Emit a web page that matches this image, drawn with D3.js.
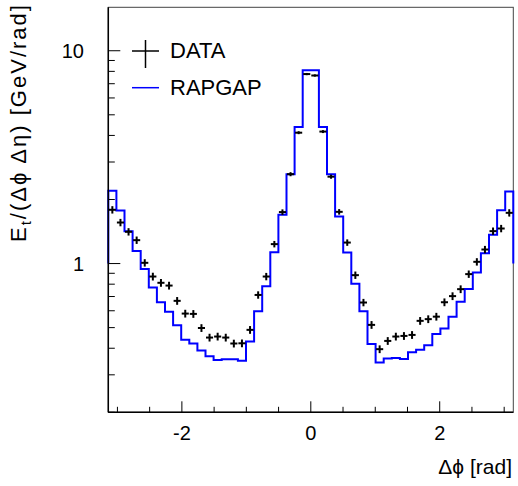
<!DOCTYPE html>
<html>
<head>
<meta charset="utf-8">
<script src="https://cdn.jsdelivr.net/npm/d3@7"></script>
<style>
  body { margin: 0; background: #fff; }
  text { font-family: "Liberation Sans", Arial, Helvetica, sans-serif; fill: #000; }
</style>
</head>
<body>
<div id="chart"></div>
<script>
// 50 bins over [-pi, pi]
var nBins = 50;
var xMin = -Math.PI, xMax = Math.PI;

// RAPGAP histogram, one value per bin
var rapgap = [2.20, 1.775, 1.42, 1.147, 0.944, 0.771, 0.658, 0.593, 0.513, 0.438,
              0.421, 0.39, 0.367, 0.352, 0.355, 0.355, 0.349, 0.43, 0.597, 0.783,
              1.131, 1.694, 2.63, 4.38, 8.1, 8.1, 4.38, 2.63, 1.663, 1.126,
              0.803, 0.597, 0.419, 0.343, 0.358, 0.36, 0.356, 0.383, 0.393, 0.413,
              0.467, 0.495, 0.563, 0.661, 0.76, 0.907, 1.119, 1.364, 1.782, 2.18];

// DATA points, one per bin
var dataVals = [1.789, 1.559, 1.41, 1.288, 1.008, 0.869, 0.812, 0.788, 0.668, 0.582,
                0.58, 0.498, 0.449, 0.454, 0.449, 0.421, 0.422, 0.488, 0.712, 0.869,
                1.234, 1.745, 2.63, 4.12, 7.77, 7.65, 4.17, 2.56, 1.75, 1.255,
                0.882, 0.656, 0.515, 0.396, 0.433, 0.454, 0.457, 0.462, 0.538, 0.548,
                0.563, 0.658, 0.703, 0.758, 0.892, 1.019, 1.164, 1.42, 1.461, 1.731];

// relative errors on DATA
var dataErr = [0.04, 0.04, 0.04, 0.04, 0.04, 0.042, 0.042, 0.042, 0.042, 0.042,
               0.042, 0.042, 0.042, 0.042, 0.042, 0.042, 0.042, 0.042, 0.04, 0.04,
               0.035, 0.03, 0.022, 0.016, 0.012, 0.012, 0.016, 0.022, 0.03, 0.035,
               0.04, 0.04, 0.042, 0.042, 0.042, 0.042, 0.042, 0.042, 0.042, 0.042,
               0.042, 0.042, 0.042, 0.042, 0.04, 0.04, 0.04, 0.04, 0.04, 0.04];

var xMajor = [-2, 0, 2];
var xMinor = [-3, -2.5, -1.5, -1, -0.5, 0.5, 1, 1.5, 2.5, 3];
var yMajor = [1, 10];
var yMinor = [0.2, 0.3, 0.4, 0.5, 0.6, 0.7, 0.8, 0.9, 2, 3, 4, 5, 6, 7, 8, 9];

var width = 518, height = 486;
var pL = 108.3, pR = 513.3, pT = 7.3, pB = 412.3;

var svg = d3.select("#chart").append("svg")
    .attr("width", width).attr("height", height);

var x = d3.scaleLinear().domain([xMin, xMax]).range([pL, pR]);
var y = d3.scaleLog().domain([0.2, 16]).range([pB, pT]);
var binW = (xMax - xMin) / nBins;

// frame
svg.append("rect")
    .attr("x", pL).attr("y", pT)
    .attr("width", pR - pL).attr("height", pB - pT)
    .attr("fill", "none").attr("stroke", "#444").attr("stroke-width", 1);

// histogram outline (starts and ends at y = 1 like the original)
var pts = [[x(xMin), y(1)]];
rapgap.forEach(function (v, i) {
  var x0 = x(xMin + i * binW), x1 = x(xMin + (i + 1) * binW);
  pts.push([x0, y(v)]);
  pts.push([x1, y(v)]);
});
pts.push([x(xMax), y(1)]);
svg.append("path")
    .attr("d", d3.line()(pts))
    .attr("fill", "none").attr("stroke", "#0000ff").attr("stroke-width", 2);

// data crosses
var g = svg.append("g").attr("stroke", "#000").attr("stroke-width", 2);
dataVals.forEach(function (v, i) {
  var xc = xMin + (i + 0.5) * binW;
  g.append("line")
      .attr("x1", x(xc - binW / 2) + 0.5).attr("x2", x(xc + binW / 2) - 0.5)
      .attr("y1", y(v)).attr("y2", y(v));
  g.append("line")
      .attr("x1", x(xc)).attr("x2", x(xc))
      .attr("y1", y(v * (1 + dataErr[i]))).attr("y2", y(v * (1 - dataErr[i])));
});

// axes lines
svg.append("line").attr("x1", pL).attr("x2", pR).attr("y1", pB).attr("y2", pB)
    .attr("stroke", "#000").attr("stroke-width", 1.5);
svg.append("line").attr("x1", pL).attr("x2", pL).attr("y1", pT).attr("y2", pB)
    .attr("stroke", "#000").attr("stroke-width", 1.5);

// ticks
var ticks = svg.append("g").attr("stroke", "#000").attr("stroke-width", 1);
xMajor.forEach(function (t) {
  ticks.append("line").attr("x1", x(t)).attr("x2", x(t)).attr("y1", pB).attr("y2", pB - 11);
});
xMinor.forEach(function (t) {
  ticks.append("line").attr("x1", x(t)).attr("x2", x(t)).attr("y1", pB).attr("y2", pB - 5.5);
});
yMajor.forEach(function (t) {
  ticks.append("line").attr("x1", pL).attr("x2", pL + 12).attr("y1", y(t)).attr("y2", y(t));
});
yMinor.forEach(function (t) {
  ticks.append("line").attr("x1", pL).attr("x2", pL + 6.5).attr("y1", y(t)).attr("y2", y(t));
});

// tick labels
svg.selectAll(".xl").data(xMajor).enter().append("text")
    .attr("class", "xl")
    .attr("x", function (d) { return x(d); })
    .attr("y", 440)
    .attr("text-anchor", "middle")
    .style("font-size", "20px")
    .text(function (d) { return d < 0 ? "-" + Math.abs(d) : d; });

svg.selectAll(".yl").data(yMajor).enter().append("text")
    .attr("class", "yl")
    .attr("x", 84)
    .attr("y", function (d) { return y(d) + 7; })
    .attr("text-anchor", "end")
    .style("font-size", "20px")
    .text(function (d) { return d; });

// axis titles
svg.append("text")
    .attr("x", 512).attr("y", 474)
    .attr("text-anchor", "end")
    .style("font-size", "21px")
    .text("\u0394\u03d5 [rad]");

var yt = svg.append("text")
    .attr("transform", "translate(26,5) rotate(-90)")
    .attr("text-anchor", "end")
    .attr("textLength", 237)
    .attr("lengthAdjust", "spacing")
    .style("font-size", "22px");
yt.append("tspan").text("E");
yt.append("tspan").attr("dy", 5).style("font-size", "15px").text("t");
yt.append("tspan").attr("dy", -5).text("/(\u0394\u03d5 \u0394\u03b7) [GeV/rad]");

// legend
var lg = svg.append("g");
lg.append("line").attr("x1", 132).attr("x2", 159).attr("y1", 51).attr("y2", 51)
    .attr("stroke", "#000").attr("stroke-width", 1.5);
lg.append("line").attr("x1", 145.5).attr("x2", 145.5).attr("y1", 40).attr("y2", 68)
    .attr("stroke", "#000").attr("stroke-width", 1.5);
lg.append("text").attr("x", 170).attr("y", 58).style("font-size", "22px").text("DATA");
lg.append("line").attr("x1", 132).attr("x2", 159).attr("y1", 87.7).attr("y2", 87.7)
    .attr("stroke", "#0000ff").attr("stroke-width", 1.5);
lg.append("text").attr("x", 170).attr("y", 95).style("font-size", "22px").text("RAPGAP");
</script>
</body>
</html>
